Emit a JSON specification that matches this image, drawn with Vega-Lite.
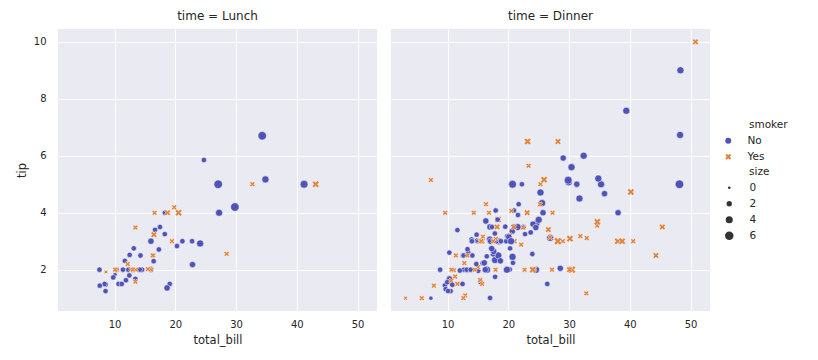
{
  "$schema": "https://vega.github.io/schema/vega-lite/v6.json",
  "padding": {"left": 16, "top": 10, "right": 5, "bottom": 5},
  "data": {"values": [
{"total_bill":16.99,"tip":1.01,"smoker":"No","time":"Dinner","size":2},
{"total_bill":10.34,"tip":1.66,"smoker":"No","time":"Dinner","size":3},
{"total_bill":21.01,"tip":3.5,"smoker":"No","time":"Dinner","size":3},
{"total_bill":23.68,"tip":3.31,"smoker":"No","time":"Dinner","size":2},
{"total_bill":24.59,"tip":3.61,"smoker":"No","time":"Dinner","size":4},
{"total_bill":25.29,"tip":4.71,"smoker":"No","time":"Dinner","size":4},
{"total_bill":8.77,"tip":2.0,"smoker":"No","time":"Dinner","size":2},
{"total_bill":26.88,"tip":3.12,"smoker":"No","time":"Dinner","size":4},
{"total_bill":15.04,"tip":1.96,"smoker":"No","time":"Dinner","size":2},
{"total_bill":14.78,"tip":3.23,"smoker":"No","time":"Dinner","size":2},
{"total_bill":10.27,"tip":1.71,"smoker":"No","time":"Dinner","size":2},
{"total_bill":35.26,"tip":5.0,"smoker":"No","time":"Dinner","size":4},
{"total_bill":15.42,"tip":1.57,"smoker":"No","time":"Dinner","size":2},
{"total_bill":18.43,"tip":3.0,"smoker":"No","time":"Dinner","size":4},
{"total_bill":14.83,"tip":3.02,"smoker":"No","time":"Dinner","size":2},
{"total_bill":21.58,"tip":3.92,"smoker":"No","time":"Dinner","size":2},
{"total_bill":10.33,"tip":1.67,"smoker":"No","time":"Dinner","size":3},
{"total_bill":16.29,"tip":3.71,"smoker":"No","time":"Dinner","size":3},
{"total_bill":16.97,"tip":3.5,"smoker":"No","time":"Dinner","size":3},
{"total_bill":20.65,"tip":3.35,"smoker":"No","time":"Dinner","size":3},
{"total_bill":17.92,"tip":4.08,"smoker":"No","time":"Dinner","size":2},
{"total_bill":20.29,"tip":2.75,"smoker":"No","time":"Dinner","size":2},
{"total_bill":15.77,"tip":2.23,"smoker":"No","time":"Dinner","size":2},
{"total_bill":39.42,"tip":7.58,"smoker":"No","time":"Dinner","size":4},
{"total_bill":19.82,"tip":3.18,"smoker":"No","time":"Dinner","size":2},
{"total_bill":17.81,"tip":2.34,"smoker":"No","time":"Dinner","size":4},
{"total_bill":13.37,"tip":2.0,"smoker":"No","time":"Dinner","size":2},
{"total_bill":12.69,"tip":2.0,"smoker":"No","time":"Dinner","size":2},
{"total_bill":21.7,"tip":4.3,"smoker":"No","time":"Dinner","size":2},
{"total_bill":19.65,"tip":3.0,"smoker":"No","time":"Dinner","size":2},
{"total_bill":9.55,"tip":1.45,"smoker":"No","time":"Dinner","size":2},
{"total_bill":18.35,"tip":2.5,"smoker":"No","time":"Dinner","size":4},
{"total_bill":15.06,"tip":3.0,"smoker":"No","time":"Dinner","size":2},
{"total_bill":20.69,"tip":2.45,"smoker":"No","time":"Dinner","size":4},
{"total_bill":17.78,"tip":3.27,"smoker":"No","time":"Dinner","size":2},
{"total_bill":24.06,"tip":3.6,"smoker":"No","time":"Dinner","size":3},
{"total_bill":16.31,"tip":2.0,"smoker":"No","time":"Dinner","size":3},
{"total_bill":16.93,"tip":3.07,"smoker":"No","time":"Dinner","size":3},
{"total_bill":18.69,"tip":2.31,"smoker":"No","time":"Dinner","size":3},
{"total_bill":31.27,"tip":5.0,"smoker":"No","time":"Dinner","size":3},
{"total_bill":16.04,"tip":2.24,"smoker":"No","time":"Dinner","size":3},
{"total_bill":17.46,"tip":2.54,"smoker":"No","time":"Dinner","size":2},
{"total_bill":13.94,"tip":3.06,"smoker":"No","time":"Dinner","size":2},
{"total_bill":9.68,"tip":1.32,"smoker":"No","time":"Dinner","size":2},
{"total_bill":30.4,"tip":5.6,"smoker":"No","time":"Dinner","size":4},
{"total_bill":18.29,"tip":3.0,"smoker":"No","time":"Dinner","size":2},
{"total_bill":22.23,"tip":5.0,"smoker":"No","time":"Dinner","size":2},
{"total_bill":32.4,"tip":6.0,"smoker":"No","time":"Dinner","size":4},
{"total_bill":28.55,"tip":2.05,"smoker":"No","time":"Dinner","size":3},
{"total_bill":18.04,"tip":3.0,"smoker":"No","time":"Dinner","size":2},
{"total_bill":12.54,"tip":2.5,"smoker":"No","time":"Dinner","size":2},
{"total_bill":10.29,"tip":2.6,"smoker":"No","time":"Dinner","size":2},
{"total_bill":34.81,"tip":5.2,"smoker":"No","time":"Dinner","size":4},
{"total_bill":9.94,"tip":1.56,"smoker":"No","time":"Dinner","size":2},
{"total_bill":25.56,"tip":4.34,"smoker":"No","time":"Dinner","size":4},
{"total_bill":19.49,"tip":3.51,"smoker":"No","time":"Dinner","size":2},
{"total_bill":38.01,"tip":3.0,"smoker":"Yes","time":"Dinner","size":4},
{"total_bill":26.41,"tip":1.5,"smoker":"No","time":"Dinner","size":2},
{"total_bill":11.24,"tip":1.76,"smoker":"Yes","time":"Dinner","size":2},
{"total_bill":48.27,"tip":6.73,"smoker":"No","time":"Dinner","size":4},
{"total_bill":20.29,"tip":3.21,"smoker":"Yes","time":"Dinner","size":2},
{"total_bill":13.81,"tip":2.0,"smoker":"Yes","time":"Dinner","size":2},
{"total_bill":11.02,"tip":1.98,"smoker":"Yes","time":"Dinner","size":2},
{"total_bill":18.29,"tip":3.76,"smoker":"Yes","time":"Dinner","size":4},
{"total_bill":17.59,"tip":2.64,"smoker":"No","time":"Dinner","size":3},
{"total_bill":20.08,"tip":3.15,"smoker":"No","time":"Dinner","size":3},
{"total_bill":16.45,"tip":2.47,"smoker":"No","time":"Dinner","size":2},
{"total_bill":3.07,"tip":1.0,"smoker":"Yes","time":"Dinner","size":1},
{"total_bill":20.23,"tip":2.01,"smoker":"No","time":"Dinner","size":2},
{"total_bill":15.01,"tip":2.09,"smoker":"Yes","time":"Dinner","size":2},
{"total_bill":12.02,"tip":1.97,"smoker":"No","time":"Dinner","size":2},
{"total_bill":17.07,"tip":3.0,"smoker":"No","time":"Dinner","size":3},
{"total_bill":26.86,"tip":3.14,"smoker":"Yes","time":"Dinner","size":2},
{"total_bill":25.28,"tip":5.0,"smoker":"Yes","time":"Dinner","size":2},
{"total_bill":14.73,"tip":2.2,"smoker":"No","time":"Dinner","size":2},
{"total_bill":10.51,"tip":1.25,"smoker":"No","time":"Dinner","size":2},
{"total_bill":17.92,"tip":3.08,"smoker":"Yes","time":"Dinner","size":2},
{"total_bill":27.2,"tip":4.0,"smoker":"No","time":"Lunch","size":4},
{"total_bill":22.76,"tip":3.0,"smoker":"No","time":"Lunch","size":2},
{"total_bill":17.29,"tip":2.71,"smoker":"No","time":"Lunch","size":2},
{"total_bill":19.44,"tip":3.0,"smoker":"Yes","time":"Lunch","size":2},
{"total_bill":16.66,"tip":3.4,"smoker":"No","time":"Lunch","size":2},
{"total_bill":10.07,"tip":1.83,"smoker":"No","time":"Lunch","size":1},
{"total_bill":32.68,"tip":5.0,"smoker":"Yes","time":"Lunch","size":2},
{"total_bill":15.98,"tip":2.03,"smoker":"No","time":"Lunch","size":2},
{"total_bill":34.83,"tip":5.17,"smoker":"No","time":"Lunch","size":4},
{"total_bill":13.03,"tip":2.0,"smoker":"No","time":"Lunch","size":2},
{"total_bill":18.28,"tip":4.0,"smoker":"No","time":"Lunch","size":2},
{"total_bill":24.71,"tip":5.85,"smoker":"No","time":"Lunch","size":2},
{"total_bill":21.16,"tip":3.0,"smoker":"No","time":"Lunch","size":2},
{"total_bill":28.97,"tip":3.0,"smoker":"Yes","time":"Dinner","size":2},
{"total_bill":22.49,"tip":3.5,"smoker":"No","time":"Dinner","size":2},
{"total_bill":5.75,"tip":1.0,"smoker":"Yes","time":"Dinner","size":2},
{"total_bill":16.32,"tip":4.3,"smoker":"Yes","time":"Dinner","size":2},
{"total_bill":22.75,"tip":3.25,"smoker":"No","time":"Dinner","size":2},
{"total_bill":40.17,"tip":4.73,"smoker":"Yes","time":"Dinner","size":4},
{"total_bill":27.28,"tip":4.0,"smoker":"Yes","time":"Dinner","size":2},
{"total_bill":12.03,"tip":1.5,"smoker":"Yes","time":"Dinner","size":2},
{"total_bill":21.01,"tip":3.0,"smoker":"Yes","time":"Dinner","size":2},
{"total_bill":12.46,"tip":1.5,"smoker":"No","time":"Dinner","size":2},
{"total_bill":11.35,"tip":2.5,"smoker":"Yes","time":"Dinner","size":2},
{"total_bill":15.38,"tip":3.0,"smoker":"Yes","time":"Dinner","size":2},
{"total_bill":44.3,"tip":2.5,"smoker":"Yes","time":"Dinner","size":3},
{"total_bill":22.42,"tip":3.48,"smoker":"Yes","time":"Dinner","size":2},
{"total_bill":20.92,"tip":4.08,"smoker":"No","time":"Dinner","size":2},
{"total_bill":15.36,"tip":1.64,"smoker":"Yes","time":"Dinner","size":2},
{"total_bill":20.49,"tip":4.06,"smoker":"Yes","time":"Dinner","size":2},
{"total_bill":25.21,"tip":4.29,"smoker":"Yes","time":"Dinner","size":2},
{"total_bill":18.24,"tip":3.76,"smoker":"No","time":"Dinner","size":2},
{"total_bill":14.31,"tip":4.0,"smoker":"Yes","time":"Dinner","size":2},
{"total_bill":14.0,"tip":3.0,"smoker":"No","time":"Dinner","size":2},
{"total_bill":7.25,"tip":1.0,"smoker":"No","time":"Dinner","size":1},
{"total_bill":38.07,"tip":4.0,"smoker":"No","time":"Dinner","size":3},
{"total_bill":23.95,"tip":2.55,"smoker":"No","time":"Dinner","size":2},
{"total_bill":25.71,"tip":4.0,"smoker":"No","time":"Dinner","size":3},
{"total_bill":17.31,"tip":3.5,"smoker":"No","time":"Dinner","size":2},
{"total_bill":29.93,"tip":5.07,"smoker":"No","time":"Dinner","size":4},
{"total_bill":10.65,"tip":1.5,"smoker":"No","time":"Lunch","size":2},
{"total_bill":12.43,"tip":1.8,"smoker":"No","time":"Lunch","size":2},
{"total_bill":24.08,"tip":2.92,"smoker":"No","time":"Lunch","size":4},
{"total_bill":11.69,"tip":2.31,"smoker":"No","time":"Lunch","size":2},
{"total_bill":13.42,"tip":1.68,"smoker":"No","time":"Lunch","size":2},
{"total_bill":14.26,"tip":2.5,"smoker":"No","time":"Lunch","size":2},
{"total_bill":15.95,"tip":2.0,"smoker":"No","time":"Lunch","size":2},
{"total_bill":12.48,"tip":2.52,"smoker":"No","time":"Lunch","size":2},
{"total_bill":29.8,"tip":4.2,"smoker":"No","time":"Lunch","size":6},
{"total_bill":8.52,"tip":1.48,"smoker":"No","time":"Lunch","size":2},
{"total_bill":14.52,"tip":2.0,"smoker":"No","time":"Lunch","size":2},
{"total_bill":11.38,"tip":2.0,"smoker":"No","time":"Lunch","size":2},
{"total_bill":22.82,"tip":2.18,"smoker":"No","time":"Lunch","size":3},
{"total_bill":19.08,"tip":1.5,"smoker":"No","time":"Lunch","size":2},
{"total_bill":20.27,"tip":2.83,"smoker":"No","time":"Lunch","size":2},
{"total_bill":11.17,"tip":1.5,"smoker":"No","time":"Lunch","size":2},
{"total_bill":12.26,"tip":2.0,"smoker":"No","time":"Lunch","size":2},
{"total_bill":18.26,"tip":3.25,"smoker":"No","time":"Lunch","size":2},
{"total_bill":8.51,"tip":1.25,"smoker":"No","time":"Lunch","size":2},
{"total_bill":10.33,"tip":2.0,"smoker":"No","time":"Lunch","size":2},
{"total_bill":14.15,"tip":2.0,"smoker":"No","time":"Lunch","size":2},
{"total_bill":16.0,"tip":2.0,"smoker":"Yes","time":"Lunch","size":2},
{"total_bill":13.16,"tip":2.75,"smoker":"No","time":"Lunch","size":2},
{"total_bill":17.47,"tip":3.5,"smoker":"No","time":"Lunch","size":2},
{"total_bill":34.3,"tip":6.7,"smoker":"No","time":"Lunch","size":6},
{"total_bill":41.19,"tip":5.0,"smoker":"No","time":"Lunch","size":5},
{"total_bill":27.05,"tip":5.0,"smoker":"No","time":"Lunch","size":6},
{"total_bill":16.43,"tip":2.3,"smoker":"No","time":"Lunch","size":2},
{"total_bill":8.35,"tip":1.5,"smoker":"No","time":"Lunch","size":2},
{"total_bill":18.64,"tip":1.36,"smoker":"No","time":"Lunch","size":3},
{"total_bill":11.87,"tip":1.63,"smoker":"No","time":"Lunch","size":2},
{"total_bill":9.78,"tip":1.73,"smoker":"No","time":"Lunch","size":2},
{"total_bill":7.51,"tip":2.0,"smoker":"No","time":"Lunch","size":2},
{"total_bill":14.07,"tip":2.5,"smoker":"No","time":"Dinner","size":2},
{"total_bill":13.13,"tip":2.0,"smoker":"No","time":"Dinner","size":2},
{"total_bill":17.26,"tip":2.74,"smoker":"No","time":"Dinner","size":3},
{"total_bill":24.55,"tip":2.0,"smoker":"No","time":"Dinner","size":4},
{"total_bill":19.77,"tip":2.0,"smoker":"No","time":"Dinner","size":4},
{"total_bill":29.85,"tip":5.14,"smoker":"No","time":"Dinner","size":5},
{"total_bill":48.17,"tip":5.0,"smoker":"No","time":"Dinner","size":6},
{"total_bill":25.0,"tip":3.75,"smoker":"No","time":"Dinner","size":4},
{"total_bill":13.39,"tip":2.61,"smoker":"No","time":"Dinner","size":2},
{"total_bill":16.49,"tip":2.0,"smoker":"No","time":"Dinner","size":4},
{"total_bill":21.5,"tip":3.5,"smoker":"No","time":"Dinner","size":4},
{"total_bill":12.66,"tip":2.5,"smoker":"No","time":"Dinner","size":2},
{"total_bill":16.21,"tip":2.0,"smoker":"No","time":"Dinner","size":3},
{"total_bill":13.81,"tip":2.0,"smoker":"No","time":"Dinner","size":2},
{"total_bill":17.51,"tip":3.0,"smoker":"Yes","time":"Dinner","size":2},
{"total_bill":24.52,"tip":3.48,"smoker":"No","time":"Dinner","size":3},
{"total_bill":20.76,"tip":2.24,"smoker":"No","time":"Dinner","size":2},
{"total_bill":31.71,"tip":4.5,"smoker":"No","time":"Dinner","size":4},
{"total_bill":10.59,"tip":1.61,"smoker":"Yes","time":"Dinner","size":2},
{"total_bill":10.63,"tip":2.0,"smoker":"Yes","time":"Dinner","size":2},
{"total_bill":50.81,"tip":10.0,"smoker":"Yes","time":"Dinner","size":3},
{"total_bill":15.81,"tip":3.16,"smoker":"Yes","time":"Dinner","size":2},
{"total_bill":7.25,"tip":5.15,"smoker":"Yes","time":"Dinner","size":2},
{"total_bill":31.85,"tip":3.18,"smoker":"Yes","time":"Dinner","size":2},
{"total_bill":16.82,"tip":4.0,"smoker":"Yes","time":"Dinner","size":2},
{"total_bill":32.9,"tip":3.11,"smoker":"Yes","time":"Dinner","size":2},
{"total_bill":17.89,"tip":2.0,"smoker":"Yes","time":"Dinner","size":2},
{"total_bill":14.48,"tip":2.0,"smoker":"Yes","time":"Dinner","size":2},
{"total_bill":9.6,"tip":4.0,"smoker":"Yes","time":"Dinner","size":2},
{"total_bill":34.63,"tip":3.55,"smoker":"Yes","time":"Dinner","size":2},
{"total_bill":34.65,"tip":3.68,"smoker":"Yes","time":"Dinner","size":4},
{"total_bill":23.33,"tip":5.65,"smoker":"Yes","time":"Dinner","size":2},
{"total_bill":45.35,"tip":3.5,"smoker":"Yes","time":"Dinner","size":3},
{"total_bill":23.17,"tip":6.5,"smoker":"Yes","time":"Dinner","size":4},
{"total_bill":40.55,"tip":3.0,"smoker":"Yes","time":"Dinner","size":2},
{"total_bill":20.69,"tip":5.0,"smoker":"No","time":"Dinner","size":5},
{"total_bill":20.9,"tip":3.5,"smoker":"Yes","time":"Dinner","size":3},
{"total_bill":30.46,"tip":2.0,"smoker":"Yes","time":"Dinner","size":5},
{"total_bill":18.15,"tip":3.5,"smoker":"Yes","time":"Dinner","size":3},
{"total_bill":23.1,"tip":4.0,"smoker":"Yes","time":"Dinner","size":3},
{"total_bill":15.69,"tip":1.5,"smoker":"Yes","time":"Dinner","size":2},
{"total_bill":19.81,"tip":4.19,"smoker":"Yes","time":"Lunch","size":2},
{"total_bill":28.44,"tip":2.56,"smoker":"Yes","time":"Lunch","size":2},
{"total_bill":15.48,"tip":2.02,"smoker":"Yes","time":"Lunch","size":2},
{"total_bill":16.58,"tip":4.0,"smoker":"Yes","time":"Lunch","size":2},
{"total_bill":7.56,"tip":1.44,"smoker":"No","time":"Lunch","size":2},
{"total_bill":10.34,"tip":2.0,"smoker":"Yes","time":"Lunch","size":2},
{"total_bill":43.11,"tip":5.0,"smoker":"Yes","time":"Lunch","size":4},
{"total_bill":13.0,"tip":2.0,"smoker":"Yes","time":"Lunch","size":2},
{"total_bill":13.51,"tip":2.0,"smoker":"Yes","time":"Lunch","size":2},
{"total_bill":18.71,"tip":4.0,"smoker":"Yes","time":"Lunch","size":3},
{"total_bill":12.74,"tip":2.01,"smoker":"Yes","time":"Lunch","size":2},
{"total_bill":13.0,"tip":2.0,"smoker":"Yes","time":"Lunch","size":2},
{"total_bill":16.4,"tip":2.5,"smoker":"Yes","time":"Lunch","size":2},
{"total_bill":20.53,"tip":4.0,"smoker":"Yes","time":"Lunch","size":4},
{"total_bill":16.47,"tip":3.23,"smoker":"Yes","time":"Lunch","size":3},
{"total_bill":26.59,"tip":3.41,"smoker":"Yes","time":"Dinner","size":3},
{"total_bill":38.73,"tip":3.0,"smoker":"Yes","time":"Dinner","size":4},
{"total_bill":24.27,"tip":2.03,"smoker":"Yes","time":"Dinner","size":2},
{"total_bill":12.76,"tip":2.23,"smoker":"Yes","time":"Dinner","size":2},
{"total_bill":30.06,"tip":2.0,"smoker":"Yes","time":"Dinner","size":3},
{"total_bill":25.89,"tip":5.16,"smoker":"Yes","time":"Dinner","size":4},
{"total_bill":48.33,"tip":9.0,"smoker":"No","time":"Dinner","size":4},
{"total_bill":13.27,"tip":2.5,"smoker":"Yes","time":"Dinner","size":2},
{"total_bill":28.17,"tip":6.5,"smoker":"Yes","time":"Dinner","size":3},
{"total_bill":12.9,"tip":1.1,"smoker":"Yes","time":"Dinner","size":2},
{"total_bill":28.15,"tip":3.0,"smoker":"Yes","time":"Dinner","size":5},
{"total_bill":11.59,"tip":1.5,"smoker":"Yes","time":"Dinner","size":2},
{"total_bill":7.74,"tip":1.44,"smoker":"Yes","time":"Dinner","size":2},
{"total_bill":30.14,"tip":3.09,"smoker":"Yes","time":"Dinner","size":4},
{"total_bill":12.16,"tip":2.2,"smoker":"Yes","time":"Lunch","size":2},
{"total_bill":13.42,"tip":3.48,"smoker":"Yes","time":"Lunch","size":2},
{"total_bill":8.58,"tip":1.92,"smoker":"Yes","time":"Lunch","size":1},
{"total_bill":15.98,"tip":3.0,"smoker":"No","time":"Lunch","size":3},
{"total_bill":13.42,"tip":1.58,"smoker":"Yes","time":"Lunch","size":2},
{"total_bill":16.27,"tip":2.5,"smoker":"Yes","time":"Lunch","size":2},
{"total_bill":10.09,"tip":2.0,"smoker":"Yes","time":"Lunch","size":2},
{"total_bill":20.45,"tip":3.0,"smoker":"No","time":"Dinner","size":4},
{"total_bill":13.28,"tip":2.72,"smoker":"No","time":"Dinner","size":2},
{"total_bill":22.12,"tip":2.88,"smoker":"Yes","time":"Dinner","size":2},
{"total_bill":24.01,"tip":2.0,"smoker":"Yes","time":"Dinner","size":4},
{"total_bill":15.69,"tip":3.0,"smoker":"Yes","time":"Dinner","size":3},
{"total_bill":11.61,"tip":3.39,"smoker":"No","time":"Dinner","size":2},
{"total_bill":10.77,"tip":1.47,"smoker":"No","time":"Dinner","size":2},
{"total_bill":15.53,"tip":3.0,"smoker":"Yes","time":"Dinner","size":2},
{"total_bill":10.07,"tip":1.25,"smoker":"No","time":"Dinner","size":2},
{"total_bill":12.6,"tip":1.0,"smoker":"Yes","time":"Dinner","size":2},
{"total_bill":32.83,"tip":1.17,"smoker":"Yes","time":"Dinner","size":2},
{"total_bill":35.83,"tip":4.67,"smoker":"No","time":"Dinner","size":3},
{"total_bill":29.03,"tip":5.92,"smoker":"No","time":"Dinner","size":3},
{"total_bill":27.18,"tip":2.0,"smoker":"Yes","time":"Dinner","size":2},
{"total_bill":22.67,"tip":2.0,"smoker":"Yes","time":"Dinner","size":2},
{"total_bill":17.82,"tip":1.75,"smoker":"No","time":"Dinner","size":2},
{"total_bill":18.78,"tip":3.0,"smoker":"No","time":"Dinner","size":2}
  ]},
  "facet": {
    "column": {
      "field": "time", "type": "nominal", "sort": ["Lunch", "Dinner"],
      "header": {"title": null, "labelExpr": "'time = ' + datum.value", "labelFontSize": 12, "labelColor": "#262626", "labelPadding": 6}
    }
  },
  "spacing": 14,
  "spec": {
    "width": 319,
    "height": 282,
    "mark": {"type": "point", "filled": true, "opacity": 1, "stroke": "#ffffff", "strokeWidth": 0.5},
    "encoding": {
      "x": {"field": "total_bill", "type": "quantitative", "scale": {"domain": [0.683, 53.197], "nice": false, "zero": false}, "axis": {"values": [10, 20, 30, 40, 50], "title": "total_bill"}},
      "y": {"field": "tip", "type": "quantitative", "scale": {"domain": [0.55, 10.45], "nice": false, "zero": false}, "axis": {"values": [2, 4, 6, 8, 10], "title": "tip"}},
      "color": {"field": "smoker", "type": "nominal", "scale": {"domain": ["No", "Yes"], "range": ["#4f53b8", "#e0843d"]},
        "legend": {"title": "smoker", "orient": "none", "legendX": 691, "legendY": 91, "symbolSize": 36, "symbolStrokeWidth": 0, "symbolOffset": -26, "labelOffset": 14}},
      "shape": {"field": "smoker", "type": "nominal", "scale": {"domain": ["No", "Yes"], "range": ["circle", "M-0.5,-1L0,-0.5L0.5,-1L1,-0.5L0.5,0L1,0.5L0.5,1L0,0.5L-0.5,1L-1,0.5L-0.5,0L-1,-0.5Z"]},
        "legend": {"title": "smoker", "orient": "none", "legendX": 691, "legendY": 91, "symbolSize": 36, "symbolStrokeWidth": 0, "symbolOffset": -26, "labelOffset": 14}},
      "size": {"field": "size", "type": "quantitative", "scale": {"domain": [1, 6], "range": [18, 72], "zero": false},
        "legend": {"title": "size", "values": [0, 2, 4, 6], "orient": "none", "legendX": 691, "legendY": 138, "symbolFillColor": "#333333", "symbolStrokeWidth": 0, "format": "d", "symbolOffset": -25, "labelOffset": 15}}
    }
  },
  "config": {
    "font": "DejaVu Sans",
    "view": {"fill": "#eaeaf2", "stroke": null},
    "axis": {"domain": false, "ticks": false, "tickSize": 0, "gridColor": "#ffffff", "gridWidth": 1, "labelFontSize": 10, "labelColor": "#262626", "titleFontSize": 11.5, "titleFontWeight": "normal", "titleColor": "#262626", "labelPadding": 8},
    "axisY": {"labelPadding": 12, "titlePadding": 6},
    "axisX": {"titlePadding": 5},
    "legend": {"labelFontSize": 10.5, "titleFontSize": 10.5, "titleFontWeight": "normal", "titleColor": "#262626", "labelColor": "#262626", "rowPadding": 5, "titlePadding": 5}
  }
}
